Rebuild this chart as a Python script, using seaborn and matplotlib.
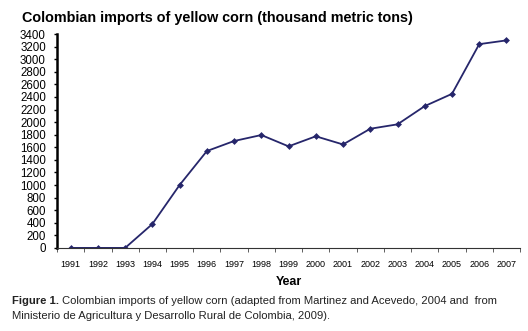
import matplotlib
matplotlib.use("Agg")
import matplotlib.pyplot as plt
import seaborn as sns
import numpy as np
import pandas as pd

years = list(range(1991, 2008))
imports = [0, 0, 0, 380, 1000, 1540, 1700, 1795, 1615, 1775, 1645,
           1895, 1965, 2255, 2450, 3240, 3300]
yticks = list(range(0, 3401, 200))

df = pd.DataFrame({"Year": years, "Imports": imports})

sns.set_theme(style="white")
plt.rcParams["font.family"] = ["Liberation Sans", "DejaVu Sans"]
plt.rcParams["text.color"] = "black"
plt.rcParams["xtick.color"] = "black"
plt.rcParams["ytick.color"] = "black"
plt.rcParams["axes.labelcolor"] = "black"

fig = plt.figure(figsize=(5.28, 3.31), dpi=100)
ax = fig.add_axes([0.108, 0.251, 0.877, 0.646])

sns.lineplot(data=df, x="Year", y="Imports", ax=ax, color="#26266b",
             linewidth=1.3, marker="D", markersize=3.5, markeredgewidth=0)

ax.set_xlim(1990.5, 2007.5)
ax.set_ylim(0, 3400)
ax.set_yticks(yticks)
ax.set_yticklabels([str(v) for v in yticks], fontsize=8.3)
ax.set_xticks(years)
ax.set_xticklabels([str(y) for y in years], fontsize=6.5)
ax.set_xticks(np.arange(1990.5, 2008, 1), minor=True)
ax.tick_params(axis="x", which="major", length=0, pad=9)
ax.tick_params(axis="x", which="minor", length=3, width=0.6, color="#444444", bottom=True)
ax.tick_params(axis="y", length=2, width=1, color="black", left=True, pad=6)

for s in ["top", "right"]:
    ax.spines[s].set_visible(False)
ax.spines["left"].set_linewidth(1.8)
ax.spines["left"].set_color("black")
ax.spines["bottom"].set_linewidth(0.8)
ax.spines["bottom"].set_color("#333333")

ax.set_xlabel("Year", fontsize=9, fontweight="bold", labelpad=5)
ax.set_ylabel("")

fig.text(0.042, 0.945, "Colombian imports of yellow corn (thousand metric tons)",
         fontsize=10.4, fontweight="bold", ha="left", va="center", color="black")

t1 = fig.text(0.022, 0.091, "Figure 1.", fontsize=8.1, fontweight="bold",
              ha="left", va="center", color="#222222")
ax.annotate("Colombian imports of yellow corn (adapted from Martinez and Acevedo, 2004 and  from",
            xy=(1, 0.5), xycoords=t1, xytext=(2.5, 0), textcoords="offset points",
            fontsize=8.1, ha="left", va="center", color="#222222", annotation_clip=False)
fig.text(0.022, 0.045, "Ministerio de Agricultura y Desarrollo Rural de Colombia, 2009).",
         fontsize=8.1, ha="left", va="center", color="#222222")

fig.savefig("out.png", dpi=100)
